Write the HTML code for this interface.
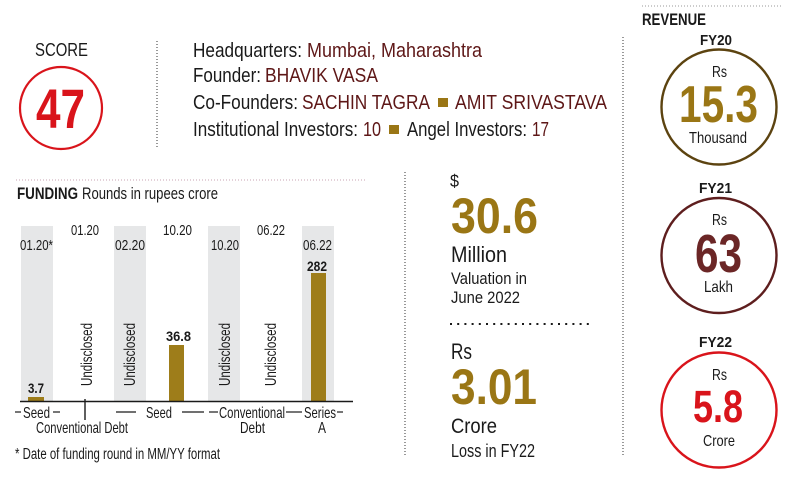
<!DOCTYPE html>
<html><head><meta charset="utf-8"><style>
html,body{margin:0;padding:0;background:#fff;}
svg{display:block;}
text{font-family:"Liberation Sans",sans-serif;}
</style></head><body>
<svg width="801" height="478" viewBox="0 0 801 478" xmlns="http://www.w3.org/2000/svg">
<rect width="801" height="478" fill="#fff"/>

<!-- SCORE -->
<text x="35" y="56" font-size="18.5" fill="#1a1a1a" textLength="53" lengthAdjust="spacingAndGlyphs">SCORE</text>
<circle cx="61" cy="108" r="41" fill="none" stroke="#d9141b" stroke-width="2.2"/>
<text x="36" y="128" font-size="56" font-weight="bold" fill="#d9141b" textLength="49" lengthAdjust="spacingAndGlyphs">47</text>

<line x1="157" y1="41" x2="157" y2="147" stroke="#555" stroke-width="1.2" stroke-dasharray="1 2"/>

<!-- info -->
<g font-size="20.5">
<text x="193" y="57" fill="#1a1a1a" textLength="109" lengthAdjust="spacingAndGlyphs">Headquarters:</text>
<text x="307" y="57" fill="#5e1717" textLength="175" lengthAdjust="spacingAndGlyphs">Mumbai, Maharashtra</text>
<text x="193" y="82" fill="#1a1a1a" textLength="68" lengthAdjust="spacingAndGlyphs">Founder:</text>
<text x="265" y="82" fill="#5e1717" textLength="113" lengthAdjust="spacingAndGlyphs">BHAVIK VASA</text>
<text x="193" y="109" fill="#1a1a1a" textLength="105" lengthAdjust="spacingAndGlyphs">Co-Founders:</text>
<text x="302" y="109" fill="#5e1717" textLength="128" lengthAdjust="spacingAndGlyphs">SACHIN TAGRA</text>
<rect x="438" y="98" width="10" height="9" fill="#9a7615"/>
<text x="455" y="109" fill="#5e1717" textLength="152" lengthAdjust="spacingAndGlyphs">AMIT SRIVASTAVA</text>
<text x="193" y="136" fill="#1a1a1a" textLength="165" lengthAdjust="spacingAndGlyphs">Institutional Investors:</text>
<text x="363" y="136" fill="#5e1717" textLength="18" lengthAdjust="spacingAndGlyphs">10</text>
<rect x="389" y="125" width="10" height="9" fill="#9a7615"/>
<text x="407" y="136" fill="#1a1a1a" textLength="120" lengthAdjust="spacingAndGlyphs">Angel Investors:</text>
<text x="532" y="136" fill="#5e1717" textLength="17" lengthAdjust="spacingAndGlyphs">17</text>
</g>

<!-- FUNDING -->
<line x1="16" y1="180" x2="367" y2="180" stroke="#c9a3b3" stroke-width="1" stroke-dasharray="1 2"/>
<text x="17" y="199" font-size="17" font-weight="bold" fill="#1a1a1a" textLength="61" lengthAdjust="spacingAndGlyphs">FUNDING</text>
<text x="82" y="199" font-size="17" fill="#1a1a1a" textLength="136" lengthAdjust="spacingAndGlyphs">Rounds in rupees crore</text>

<g fill="#e6e7e8">
<rect x="21" y="226" width="32" height="175"/>
<rect x="114" y="226" width="32" height="175"/>
<rect x="208" y="226" width="32" height="175"/>
<rect x="302" y="226" width="32" height="175"/>
</g>

<g font-size="14.5" fill="#1a1a1a">
<text x="20" y="250" textLength="33" lengthAdjust="spacingAndGlyphs">01.20*</text>
<text x="71" y="235" textLength="28" lengthAdjust="spacingAndGlyphs">01.20</text>
<text x="115" y="250" textLength="30" lengthAdjust="spacingAndGlyphs">02.20</text>
<text x="163" y="235" textLength="29" lengthAdjust="spacingAndGlyphs">10.20</text>
<text x="211" y="250" textLength="28" lengthAdjust="spacingAndGlyphs">10.20</text>
<text x="257" y="235" textLength="28" lengthAdjust="spacingAndGlyphs">06.22</text>
<text x="303" y="250" textLength="29" lengthAdjust="spacingAndGlyphs">06.22</text>
</g>

<g fill="#9e7d1a">
<rect x="28" y="397" width="16" height="4"/>
<rect x="169" y="345" width="15" height="56"/>
<rect x="311" y="273" width="15" height="128"/>
</g>
<g font-size="13.5" font-weight="bold" fill="#1a1a1a">
<text x="28" y="393" textLength="16" lengthAdjust="spacingAndGlyphs">3.7</text>
<text x="166" y="341" textLength="25" lengthAdjust="spacingAndGlyphs">36.8</text>
<text x="307" y="271" textLength="20" lengthAdjust="spacingAndGlyphs">282</text>
</g>

<g font-size="16" fill="#1a1a1a">
<text transform="translate(92,386) rotate(-90)" textLength="63" lengthAdjust="spacingAndGlyphs">Undisclosed</text>
<text transform="translate(135,386) rotate(-90)" textLength="63" lengthAdjust="spacingAndGlyphs">Undisclosed</text>
<text transform="translate(230,386) rotate(-90)" textLength="63" lengthAdjust="spacingAndGlyphs">Undisclosed</text>
<text transform="translate(276,386) rotate(-90)" textLength="63" lengthAdjust="spacingAndGlyphs">Undisclosed</text>
</g>

<line x1="20" y1="401.5" x2="353" y2="401.5" stroke="#1a1a1a" stroke-width="1.6"/>
<line x1="85" y1="399" x2="85" y2="420" stroke="#1a1a1a" stroke-width="1.4"/>

<g stroke="#1a1a1a" stroke-width="1.2">
<line x1="15" y1="412" x2="21" y2="412"/>
<line x1="53" y1="412" x2="60" y2="412"/>
<line x1="116" y1="412" x2="136" y2="412"/>
<line x1="182" y1="412" x2="204" y2="412"/>
<line x1="209" y1="412" x2="218" y2="412"/>
<line x1="286" y1="412" x2="302" y2="412"/>
<line x1="337" y1="412" x2="343" y2="412"/>
</g>
<g font-size="16" fill="#1a1a1a">
<text x="23" y="418" textLength="27" lengthAdjust="spacingAndGlyphs">Seed</text>
<text x="146" y="418" textLength="26" lengthAdjust="spacingAndGlyphs">Seed</text>
<text x="219" y="418" textLength="66" lengthAdjust="spacingAndGlyphs">Conventional</text>
<text x="304" y="418" textLength="32" lengthAdjust="spacingAndGlyphs">Series</text>
<text x="36" y="433" textLength="92" lengthAdjust="spacingAndGlyphs">Conventional Debt</text>
<text x="240" y="433" textLength="25" lengthAdjust="spacingAndGlyphs">Debt</text>
<text x="318" y="433" textLength="8" lengthAdjust="spacingAndGlyphs">A</text>
</g>
<text x="15" y="459" font-size="15.5" fill="#1a1a1a" textLength="205" lengthAdjust="spacingAndGlyphs">* Date of funding round in  MM/YY format</text>

<!-- middle -->
<line x1="405" y1="172" x2="405" y2="455" stroke="#555" stroke-width="1.2" stroke-dasharray="1 2"/>
<text x="450" y="187" font-size="17.5" fill="#1a1a1a" textLength="9" lengthAdjust="spacingAndGlyphs">$</text>
<text x="451" y="233" font-size="50" font-weight="bold" fill="#9a7615" textLength="87" lengthAdjust="spacingAndGlyphs">30.6</text>
<text x="451" y="262" font-size="22.5" fill="#1a1a1a" textLength="56" lengthAdjust="spacingAndGlyphs">Million</text>
<text x="451" y="284" font-size="17" fill="#1a1a1a" textLength="76" lengthAdjust="spacingAndGlyphs">Valuation in</text>
<text x="451" y="303" font-size="17" fill="#1a1a1a" textLength="69" lengthAdjust="spacingAndGlyphs">June 2022</text>

<line x1="450" y1="324" x2="594" y2="324" stroke="#1a1a1a" stroke-width="2" stroke-dasharray="2 5.2"/>
<text x="451" y="359" font-size="22.5" fill="#1a1a1a" textLength="21" lengthAdjust="spacingAndGlyphs">Rs</text>
<text x="451" y="404" font-size="50" font-weight="bold" fill="#9a7615" textLength="86" lengthAdjust="spacingAndGlyphs">3.01</text>
<text x="451" y="433" font-size="21.5" fill="#1a1a1a" textLength="46" lengthAdjust="spacingAndGlyphs">Crore</text>
<text x="451" y="457" font-size="18" fill="#1a1a1a" textLength="84" lengthAdjust="spacingAndGlyphs">Loss in FY22</text>

<!-- revenue -->
<line x1="623" y1="37" x2="623" y2="457" stroke="#555" stroke-width="1.2" stroke-dasharray="1 2"/>
<line x1="642" y1="6" x2="783" y2="6" stroke="#999" stroke-width="1" stroke-dasharray="1 2"/>
<text x="642" y="25" font-size="16.5" font-weight="bold" fill="#1a1a1a" textLength="64" lengthAdjust="spacingAndGlyphs">REVENUE</text>

<text x="700" y="45" font-size="15" font-weight="bold" fill="#1a1a1a" textLength="32" lengthAdjust="spacingAndGlyphs">FY20</text>
<circle cx="719" cy="107" r="57.5" fill="none" stroke="#5c4310" stroke-width="2.4"/>
<text x="712" y="77" font-size="15.5" fill="#1a1a1a" textLength="15" lengthAdjust="spacingAndGlyphs">Rs</text>
<text x="679" y="122" font-size="52" font-weight="bold" fill="#9a7615" textLength="79" lengthAdjust="spacingAndGlyphs">15.3</text>
<text x="689" y="143" font-size="16" fill="#1a1a1a" textLength="58" lengthAdjust="spacingAndGlyphs">Thousand</text>

<text x="699" y="193" font-size="15" font-weight="bold" fill="#1a1a1a" textLength="33" lengthAdjust="spacingAndGlyphs">FY21</text>
<circle cx="719" cy="255.5" r="57.5" fill="none" stroke="#5e1e1e" stroke-width="2.4"/>
<text x="712" y="225" font-size="15.5" fill="#1a1a1a" textLength="15" lengthAdjust="spacingAndGlyphs">Rs</text>
<text x="695" y="272" font-size="54" font-weight="bold" fill="#6b2626" textLength="47" lengthAdjust="spacingAndGlyphs">63</text>
<text x="704" y="292" font-size="16" fill="#1a1a1a" textLength="29" lengthAdjust="spacingAndGlyphs">Lakh</text>

<text x="699" y="347" font-size="15" font-weight="bold" fill="#1a1a1a" textLength="33" lengthAdjust="spacingAndGlyphs">FY22</text>
<circle cx="719" cy="410" r="57.5" fill="none" stroke="#d9141b" stroke-width="2.4"/>
<text x="712" y="380" font-size="15.5" fill="#1a1a1a" textLength="15" lengthAdjust="spacingAndGlyphs">Rs</text>
<text x="693" y="422" font-size="45" font-weight="bold" fill="#d9141b" textLength="50" lengthAdjust="spacingAndGlyphs">5.8</text>
<text x="703" y="446" font-size="16" fill="#1a1a1a" textLength="32" lengthAdjust="spacingAndGlyphs">Crore</text>
</svg>
</body></html>
